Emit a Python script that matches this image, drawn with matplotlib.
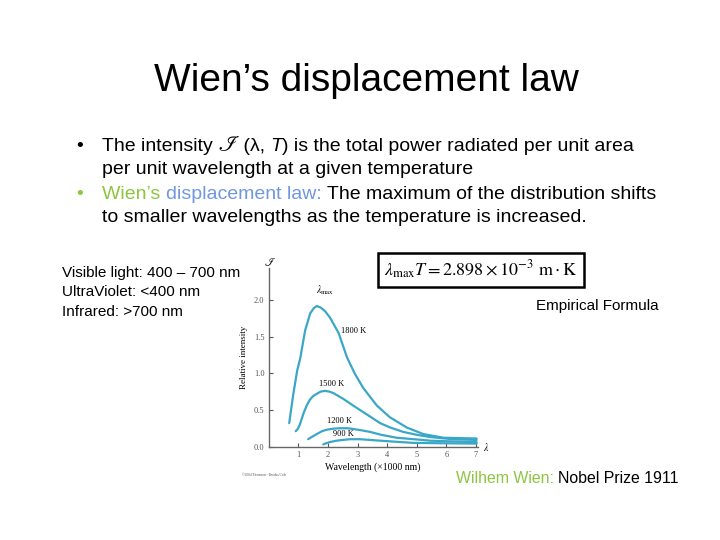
import matplotlib
matplotlib.use("Agg")
import matplotlib.pyplot as plt
from matplotlib.patches import Rectangle

# curve data (wavelength in 1000 nm, relative intensity)
x_1800 = [0.69, 0.83, 0.96, 1.06, 1.23, 1.40, 1.52, 1.62, 1.75, 1.90, 2.07, 2.36, 2.64, 2.90, 3.19, 3.65, 4.09, 4.66, 5.22, 5.90, 7.02]
y_1800 = [0.32, 0.72, 1.04, 1.20, 1.59, 1.82, 1.89, 1.92, 1.90, 1.85, 1.76, 1.55, 1.22, 1.00, 0.80, 0.56, 0.40, 0.26, 0.17, 0.12, 0.11]
x_1500 = [0.91, 0.98, 1.05, 1.17, 1.28, 1.39, 1.50, 1.62, 1.75, 1.90, 2.05, 2.18, 2.52, 2.85, 3.19, 3.42, 3.76, 4.10, 4.54, 5.00, 5.45, 6.20, 7.02]
y_1500 = [0.21, 0.24, 0.30, 0.45, 0.56, 0.64, 0.69, 0.72, 0.75, 0.76, 0.75, 0.73, 0.65, 0.56, 0.47, 0.41, 0.32, 0.26, 0.20, 0.16, 0.13, 0.10, 0.09]
x_1200 = [1.33, 1.45, 1.62, 1.80, 1.96, 2.20, 2.41, 2.65, 2.85, 3.15, 3.42, 3.80, 4.32, 4.90, 5.45, 6.20, 7.02]
y_1200 = [0.10, 0.13, 0.17, 0.21, 0.23, 0.245, 0.25, 0.25, 0.24, 0.22, 0.20, 0.16, 0.12, 0.10, 0.08, 0.07, 0.06]
x_900 = [1.84, 2.05, 2.29, 2.50, 2.74, 3.08, 3.42, 3.76, 4.30, 4.88, 5.80, 7.02]
y_900 = [0.03, 0.06, 0.08, 0.09, 0.10, 0.10, 0.09, 0.08, 0.065, 0.05, 0.045, 0.04]

curves = [(x_1800, y_1800), (x_1500, y_1500), (x_1200, y_1200), (x_900, y_900)]
temp_labels = ["1800 K", "1500 K", "1200 K", "900 K"]
label_pos = [(2.85, 1.58), (2.12, 0.86), (2.40, 0.35), (2.51, 0.17)]

x_ticks = [1, 2, 3, 4, 5, 6, 7]
y_ticks = [0.0, 0.5, 1.0, 1.5, 2.0]

green = "#8cc63f"
blue = "#7097e0"
curve_col = "#3ba7c8"

sans = "Liberation Sans"
serif = "Liberation Serif"

fig = plt.figure(figsize=(7.2, 5.4), dpi=100)
fig.patch.set_facecolor("white")
renderer = fig.canvas.get_renderer()


def px(x, y):
    # slide pixel (from top-left) -> figure fraction
    return x / 720.0, 1 - y / 540.0


def runs(x, y, parts, size):
    # write text pieces one after another on the same baseline
    fx, fy = px(x, y)
    for s, kw in parts:
        opts = dict(fontsize=size, va="baseline")
        opts.update(kw)
        t = fig.text(fx, fy, s, **opts)
        fx += t.get_window_extent(renderer).width / fig.bbox.width


# title and bullets
fig.text(*px(366, 91), "Wien\u2019s displacement law", fontsize=28, family=sans,
         ha="center", va="baseline")
bsize = 14
fig.text(*px(76, 151), "\u2022", fontsize=bsize, family=sans, va="baseline")
runs(102, 151, [("The intensity ", dict(family=sans)),
                ("\u2110", dict(family=["STIXGeneral", sans], fontsize=bsize + 2)),
                (" (\u03bb, ", dict(family=sans)),
                ("T", dict(family=sans, style="italic")),
                (") is the total power radiated per unit area", dict(family=sans))], bsize)
runs(102, 174, [("per unit wavelength at a given temperature", dict(family=sans))], bsize)
fig.text(*px(76, 199), "\u2022", fontsize=bsize, family=sans, va="baseline", color=green)
runs(102, 199, [("Wien\u2019s ", dict(family=sans, color=green)),
                ("displacement law: ", dict(family=sans, color=blue)),
                ("The maximum of the distribution shifts", dict(family=sans))], bsize)
runs(102, 222, [("to smaller wavelengths as the temperature is increased.", dict(family=sans))], bsize)

# side notes
fig.text(*px(62, 277), "Visible light: 400 \u2013 700 nm", fontsize=11, family=sans, va="baseline")
fig.text(*px(62, 296), "UltraViolet: <400 nm", fontsize=11, family=sans, va="baseline")
fig.text(*px(62, 316), "Infrared: >700 nm", fontsize=11, family=sans, va="baseline")
fig.text(*px(536, 310), "Empirical Formula", fontsize=11, family=sans, va="baseline")
runs(456, 483, [("Wilhem Wien: ", dict(family=sans, color=green)),
                ("Nobel Prize 1911", dict(family=sans))], 11.4)

# formula box
fig.patches.append(Rectangle((0.525, 0.469), 0.286, 0.063, transform=fig.transFigure,
                             fill=False, edgecolor="black", linewidth=1.8))
fig.text(0.668, 0.500, r"$\lambda_{\mathrm{max}}T = 2.898\times10^{-3}\ \mathrm{m}\cdot\mathrm{K}$",
         fontsize=13, ha="center", va="center", math_fontfamily="stix")

# chart
ax = fig.add_axes([0.3733, 0.1731, 0.2899, 0.3307])
for (xs, ys) in curves:
    ax.plot(xs, ys, color=curve_col, linewidth=1.6, solid_capstyle="round", solid_joinstyle="round")
for lab, (lx, ly) in zip(temp_labels, label_pos):
    ax.text(lx, ly, lab, fontsize=6, family=serif, ha="center", va="center")
ax.text(1.90, 2.13, r"$\lambda_{\mathrm{max}}$", fontsize=7, ha="center", va="center",
        math_fontfamily="stix")
ax.text(7.35, 0.0, r"$\lambda$", fontsize=7, ha="center", va="center", math_fontfamily="stix")
ax.text(0.05, 2.52, r"$\mathscr{I}$", fontsize=8, ha="center", va="center", math_fontfamily="stix")

ax.set_xlim(0, 7.05)
ax.set_ylim(0, 2.44)
ax.set_xticks(x_ticks)
ax.set_yticks(y_ticks)
ax.set_xticklabels([str(t) for t in x_ticks], family=serif, fontsize=6)
ax.set_yticklabels(["%.1f" % t for t in y_ticks], family=serif, fontsize=6)
ax.tick_params(direction="in", length=3, width=0.8, colors="#555555", pad=3)
for side in ["top", "right"]:
    ax.spines[side].set_visible(False)
for side in ["left", "bottom"]:
    ax.spines[side].set_color("#666666")
    ax.spines[side].set_linewidth(1.0)
ax.set_xlabel("Wavelength (\u00d71000 nm)", family=serif, fontsize=7, labelpad=3)
ax.set_ylabel("Relative intensity", family=serif, fontsize=6.5, labelpad=4)
ax.patch.set_alpha(0)

fig.text(0.336, 0.118, "\u00a92004 Thomson - Brooks/Cole", fontsize=2.5, family=serif, color="#555555")

fig.savefig("out.png", dpi=100)
